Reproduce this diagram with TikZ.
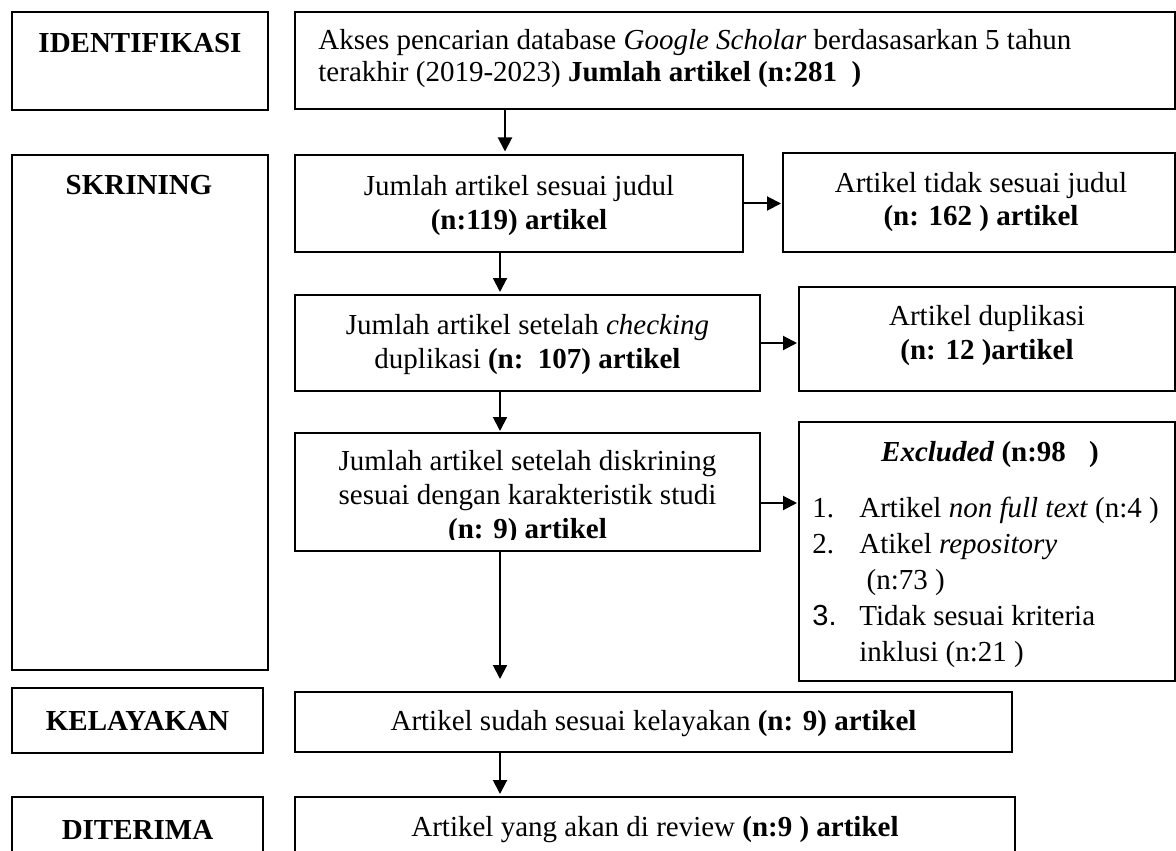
\documentclass[tikz,border=0pt]{standalone}
\usepackage{fontspec}
\setmainfont{Liberation Serif}
\newfontfamily\numfont{Liberation Sans}
\usetikzlibrary{
  arrows.meta,
  positioning
}
\newcommand\flowfont{\fontsize{14.5}{17}\selectfont}
\newcommand\stacked[1]{\begin{tabular}[t]{@{}c@{}}#1\end{tabular}}
\tikzset{
  flowbox/.style={
    draw,
    line width=1pt,
    align=center,
    inner sep=0pt,
    font=\flowfont
  },
  stagename/.style={
    anchor=base,
    inner sep=0pt,
    font=\flowfont\bfseries
  },
  flowtext/.style={
    anchor=base,
    inner sep=0pt,
    font=\flowfont
  },
  flowarrow/.style={
    line width=1pt,
    -{Triangle[length=7pt,width=7pt]}
  }
}

\begin{document}
\begin{tikzpicture}[x=0.5pt, y=-0.5pt]
  \useasboundingbox (0,0) rectangle (1176,850);
  \clip (0,0) rectangle (1176,850);
  \coordinate (spine) at (500,0);
  \coordinate (topSpine) at (505,0);

  % stages
  \node[flowbox, minimum width=128pt, minimum height=49pt] (ident) at (140,61) {};
  \node[stagename] (identName) at (140,53) {IDENTIFIKASI};
  \node[flowbox, minimum width=128pt, minimum height=257.5pt] (skrin) at (140,412.5) {};
  \node[stagename] (skrinName) at (139,195) {SKRINING};
  \node[flowbox, minimum width=125.5pt, minimum height=32.5pt, font=\flowfont\bfseries] (kelayakan) at (137.5,720.5) {KELAYAKAN};
  \node[flowbox, minimum width=125.5pt, minimum height=32.5pt, font=\flowfont\bfseries] (diterima) at (137.5,829.5) {DITERIMA};

  % main column
  \node[flowbox, minimum width=440pt, minimum height=48.5pt] (akses) at (735,60.5) {};
  \node[flowtext, anchor=base west] (aksesText) at (318,50) {\begin{tabular}[t]{@{}l@{}}
    Akses pencarian database \textit{Google Scholar} berdasasarkan 5 tahun\\[-1pt]
    terakhir (2019-2023) \textbf{Jumlah artikel (n:281\ \ )}
  \end{tabular}};
  \node[flowbox, minimum width=224pt, minimum height=48pt] (judul) at (519,203.5) {};
  \node[flowtext] (judulText) at (519,196)
    {\stacked{Jumlah artikel sesuai judul\\\textbf{(n:119) artikel}}};
  \node[flowbox, minimum width=232.5pt, minimum height=48pt] (cek) at (527.5,343) {};
  \node[flowtext] (cekText) at (527.5,334)
    {\stacked{Jumlah artikel setelah \textit{checking}\\duplikasi \textbf{(n:\ \ 107) artikel}}};
  \node[flowbox, minimum width=232.5pt, minimum height=59pt] (seleksi) at (527.5,492) {};
  \begin{scope}
    \clip (295,433) rectangle (760,539);
    \node[flowtext] (seleksiText) at (527.5,470)
      {\stacked{Jumlah artikel setelah diskrining\\sesuai dengan karakteristik studi\\\textbf{(n: 9) artikel}}};
  \end{scope}
  \node[flowbox, minimum width=358.5pt, minimum height=30pt] (layak) at (653.5,722) {};
  \node[flowtext] (layakText) at (653.5,730)
    {Artikel sudah sesuai kelayakan \textbf{(n: 9) artikel}};
  \node[flowbox, minimum width=360pt, minimum height=32.5pt] (review) at (655,829.5)
    {Artikel yang akan di review \textbf{(n:9 ) artikel}};

  % side column
  \node[flowbox, minimum width=196pt, minimum height=49.5pt] (tidak) at (979,202.5) {};
  \node[flowtext] (tidakText) at (981,192)
    {\stacked{Artikel tidak sesuai judul\\\textbf{(n: 162 ) artikel}}};
  \node[flowbox, minimum width=188pt, minimum height=52pt] (dupli) at (987,339) {};
  \node[flowtext] (dupliText) at (987,325)
    {\stacked{Artikel duplikasi\\\textbf{(n: 12 )artikel}}};
  \node[flowbox, minimum width=188pt, minimum height=129.5pt] (excl) at (987,551.5) {};
  \node[flowtext] (exclName) at (990,461)
    {\textbf{\textit{Excluded}} \textbf{(n:98\hspace{0.8em})}};
  \node[flowtext, anchor=base west] (exclList) at (812,517) {\def\arraystretch{1.06}%
    \begin{tabular}[t]{@{}p{23.5pt}@{}l@{}}
      1. & Artikel \textit{non full text} (n:4 )\\
      2. & Atikel \textit{repository}\\
         & \ (n:73 )\\
      {\numfont 3.} & Tidak sesuai kriteria\\
         & inklusi (n:21 )
    \end{tabular}};

  % connectors
  \coordinate (seleksiOut) at ([yshift=-5.5pt]seleksi.east);
  \draw[flowarrow, shorten >=1.5pt] (akses.south -| topSpine) -- (judul.north -| topSpine);
  \draw[flowarrow, shorten >=1pt] (judul.south -| spine) -- (cek.north -| spine);
  \draw[flowarrow, shorten >=0.5pt] (cek.south -| spine) -- (seleksi.north -| spine);
  \draw[flowarrow, shorten >=6pt] (seleksi.south -| spine) -- (layak.north -| spine);
  \draw[flowarrow, shorten >=1pt] (layak.south -| spine) -- (review.north -| spine);
  \draw[flowarrow, shorten >=0.5pt] (judul.east) -- (tidak.west |- judul.east);
  \draw[flowarrow, shorten >=0.5pt] (cek.east) -- (dupli.west |- cek.east);
  \draw[flowarrow, shorten >=0.5pt] (seleksiOut) -- (excl.west |- seleksiOut);
\end{tikzpicture}
\end{document}
